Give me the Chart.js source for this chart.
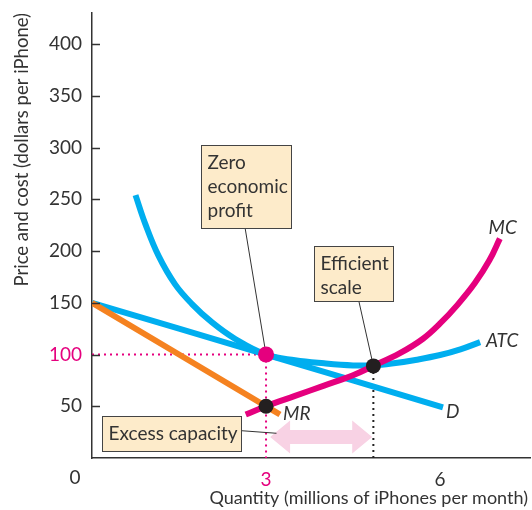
<!DOCTYPE html>
<html>
<head>
<meta charset="utf-8">
<script src="https://cdn.jsdelivr.net/npm/chart.js@4"></script>
<style>
  body { margin: 0; background: #fff; }
  canvas { display: block; }
</style>
</head>
<body>
<canvas id="chart" width="532" height="510"></canvas>
<script>
// values: quantity in millions, price in dollars
const demandQty = [0, 3, 6.05];
const demandPrice = [150, 100, 49];

const mrQty = [0, 3, 3.24];
const mrPrice = [150, 50, 42];

const mcQty = [2.65, 3, 3.5, 4, 4.5, 4.85, 5.3, 5.7, 6, 6.3, 6.6, 6.85, 7.03];
const mcPrice = [42, 50, 60, 70, 80, 89, 101, 115, 130, 148, 169, 191, 212];

const atcQty = [0.75, 0.92, 1.15, 1.43, 1.72, 2.07, 2.47, 3, 3.5, 4, 4.5, 4.85, 5.2, 5.6, 6, 6.35, 6.69];
const atcPrice = [254, 226, 195, 168, 149, 131, 115, 100, 94.5, 91.5, 89.5, 89.5, 91.5, 95, 99.5, 105, 112];

const xTicks = [3, 6];
const yTicks = [50, 100, 150, 200, 250, 300, 350, 400];

// the marked points
const zeroProfit = { q: 3, p: 100 };
const mrEqualsMc = { q: 3, p: 50 };
const efficient = { q: 4.85, p: 89 };

const BLUE = '#00aeef';
const MAGENTA = '#e5007e';
const ORANGE = '#f58220';
const TEXT = '#333333';
const FONT = 'Lato, "DejaVu Sans", sans-serif';

const toPoints = (xs, ys) => xs.map((v, i) => ({ x: v, y: ys[i] }));

function curve(label, xs, ys, color, order) {
  return {
    label: label,
    data: toPoints(xs, ys),
    borderColor: color,
    borderWidth: 6,
    pointRadius: 0,
    fill: false,
    tension: 0.4,
    borderCapStyle: 'butt',
    order: order,
  };
}

// boxes and leaders, given in chart values
const notes = [
  { lines: ['Zero', 'economic', 'profit'], x0: 1.88, y0: 302, x1: 3.43, y1: 222,
    from: [2.64, 222], to: [zeroProfit.q, zeroProfit.p] },
  { lines: ['Efficient', 'scale'], x0: 3.83, y0: 205, x1: 5.19, y1: 151.5,
    from: [4.6, 151.5], to: [efficient.q, efficient.p] },
  { lines: ['Excess capacity'], x0: 0.17, y0: 40.6, x1: 2.57, y1: 6.8,
    from: [2.57, 26.4], to: [3.18, 23.9] },
];

const curveLabels = [
  { text: 'MC', q: 7.08, p: 222 },
  { text: 'ATC', q: 7.07, p: 113 },
  { text: 'D', q: 6.22, p: 45 },
  { text: 'MR', q: 3.53, p: 42.5 },
];

const econPlugin = {
  id: 'econ',
  beforeDatasetsDraw(chart) {
    const { ctx, scales: { x, y } } = chart;
    ctx.save();

    // excess capacity arrow
    const ax1 = x.getPixelForValue(3.07);
    const ax2 = x.getPixelForValue(4.83);
    const ay = y.getPixelForValue(20.3);
    const head = 20, hh = 16.5, sh = 7;
    ctx.fillStyle = '#f8d2e4';
    ctx.beginPath();
    ctx.moveTo(ax1, ay);
    ctx.lineTo(ax1 + head, ay - hh);
    ctx.lineTo(ax1 + head, ay - sh);
    ctx.lineTo(ax2 - head, ay - sh);
    ctx.lineTo(ax2 - head, ay - hh);
    ctx.lineTo(ax2, ay);
    ctx.lineTo(ax2 - head, ay + hh);
    ctx.lineTo(ax2 - head, ay + sh);
    ctx.lineTo(ax1 + head, ay + sh);
    ctx.lineTo(ax1 + head, ay + hh);
    ctx.closePath();
    ctx.fill();

    // dotted guides
    ctx.lineWidth = 2;
    ctx.setLineDash([2, 4]);
    ctx.strokeStyle = MAGENTA;
    ctx.beginPath();
    ctx.moveTo(x.getPixelForValue(0), y.getPixelForValue(zeroProfit.p));
    ctx.lineTo(x.getPixelForValue(zeroProfit.q), y.getPixelForValue(zeroProfit.p));
    ctx.moveTo(x.getPixelForValue(zeroProfit.q), y.getPixelForValue(zeroProfit.p));
    ctx.lineTo(x.getPixelForValue(zeroProfit.q), y.getPixelForValue(0));
    ctx.stroke();
    ctx.strokeStyle = '#222';
    ctx.beginPath();
    ctx.moveTo(x.getPixelForValue(efficient.q), y.getPixelForValue(efficient.p));
    ctx.lineTo(x.getPixelForValue(efficient.q), y.getPixelForValue(0));
    ctx.stroke();
    ctx.restore();
  },
  afterDatasetsDraw(chart) {
    const { ctx, scales: { x, y } } = chart;
    ctx.save();

    // leaders
    ctx.strokeStyle = '#333';
    ctx.lineWidth = 1;
    notes.forEach(n => {
      ctx.beginPath();
      ctx.moveTo(x.getPixelForValue(n.from[0]), y.getPixelForValue(n.from[1]));
      ctx.lineTo(x.getPixelForValue(n.to[0]), y.getPixelForValue(n.to[1]));
      ctx.stroke();
    });

    // boxes
    ctx.font = '19px ' + FONT;
    ctx.textBaseline = 'middle';
    ctx.textAlign = 'left';
    notes.forEach(n => {
      const l = Math.round(x.getPixelForValue(n.x0)) + 0.5;
      const t = Math.round(y.getPixelForValue(n.y0)) + 0.5;
      const r = Math.round(x.getPixelForValue(n.x1)) + 0.5;
      const b = Math.round(y.getPixelForValue(n.y1)) + 0.5;
      ctx.fillStyle = '#fdebca';
      ctx.fillRect(l, t, r - l, b - t);
      ctx.strokeStyle = '#444';
      ctx.strokeRect(l, t, r - l, b - t);
      ctx.fillStyle = TEXT;
      n.lines.forEach((s, i) => ctx.fillText(s, l + 6, t + 17 + i * 24));
    });

    // points
    const dot = (pt, color, r) => {
      ctx.fillStyle = color;
      ctx.beginPath();
      ctx.arc(x.getPixelForValue(pt.q), y.getPixelForValue(pt.p), r, 0, Math.PI * 2);
      ctx.fill();
    };
    dot(zeroProfit, MAGENTA, 8);
    dot(mrEqualsMc, '#231f20', 7.5);
    dot(efficient, '#231f20', 7.5);

    // curve names
    ctx.font = 'italic 19px ' + FONT;
    ctx.textAlign = 'center';
    ctx.fillStyle = TEXT;
    curveLabels.forEach(c => ctx.fillText(c.text, x.getPixelForValue(c.q), y.getPixelForValue(c.p)));

    // tick marks pointing into the plot
    ctx.strokeStyle = TEXT;
    ctx.lineWidth = 1.5;
    const left = x.getPixelForValue(0);
    yTicks.forEach(v => {
      const py = Math.round(y.getPixelForValue(v)) + 0.5;
      ctx.beginPath();
      ctx.moveTo(left, py);
      ctx.lineTo(left + 8, py);
      ctx.stroke();
    });
    ctx.restore();
  },
  afterDraw(chart) {
    const { ctx, chartArea } = chart;
    ctx.save();
    ctx.fillStyle = TEXT;
    ctx.font = '19px ' + FONT;
    ctx.textAlign = 'center';
    ctx.textBaseline = 'middle';
    ctx.fillText('0', 75, 478);

    ctx.font = '18px ' + FONT;
    ctx.textAlign = 'right';
    ctx.fillText('Quantity (millions of iPhones per month)', chartArea.right - 2, 498);

    ctx.font = '18.5px ' + FONT;
    ctx.translate(22, 13);
    ctx.rotate(-Math.PI / 2);
    ctx.textAlign = 'right';
    ctx.fillText('Price and cost (dollars per iPhone)', 0, 0);
    ctx.restore();
  },
};

const tickFont = { family: FONT, size: 19 };

new Chart(document.getElementById('chart').getContext('2d'), {
  type: 'line',
  data: {
    datasets: [
      curve('D', demandQty, demandPrice, BLUE, 4),
      curve('ATC', atcQty, atcPrice, BLUE, 3),
      curve('MR', mrQty, mrPrice, ORANGE, 2),
      curve('MC', mcQty, mcPrice, MAGENTA, 1),
    ],
  },
  options: {
    responsive: false,
    animation: false,
    layout: { padding: { left: 0, right: 2, top: 13, bottom: 0 } },
    plugins: { legend: { display: false }, tooltip: { enabled: false } },
    scales: {
      x: {
        type: 'linear',
        min: 0,
        max: 7.55,
        afterBuildTicks: s => { s.ticks = xTicks.map(v => ({ value: v })); },
        afterFit: s => { s.height = 52; s.paddingLeft = 0; s.paddingRight = 0; },
        grid: { display: false, drawTicks: false },
        border: { color: TEXT, width: 1.5 },
        ticks: {
          padding: 10,
          font: tickFont,
          color: c => (c.tick && c.tick.value === 3 ? MAGENTA : TEXT),
        },
      },
      y: {
        type: 'linear',
        min: 0,
        max: 430,
        afterBuildTicks: s => { s.ticks = yTicks.map(v => ({ value: v })); },
        afterFit: s => { s.width = 92; s.paddingTop = 0; s.paddingBottom = 0; },
        grid: { display: false, drawTicks: false },
        border: { color: TEXT, width: 1.5 },
        ticks: {
          padding: 10,
          font: tickFont,
          color: c => (c.tick && c.tick.value === 100 ? MAGENTA : TEXT),
        },
      },
    },
  },
  plugins: [econPlugin],
});
</script>
</body>
</html>
